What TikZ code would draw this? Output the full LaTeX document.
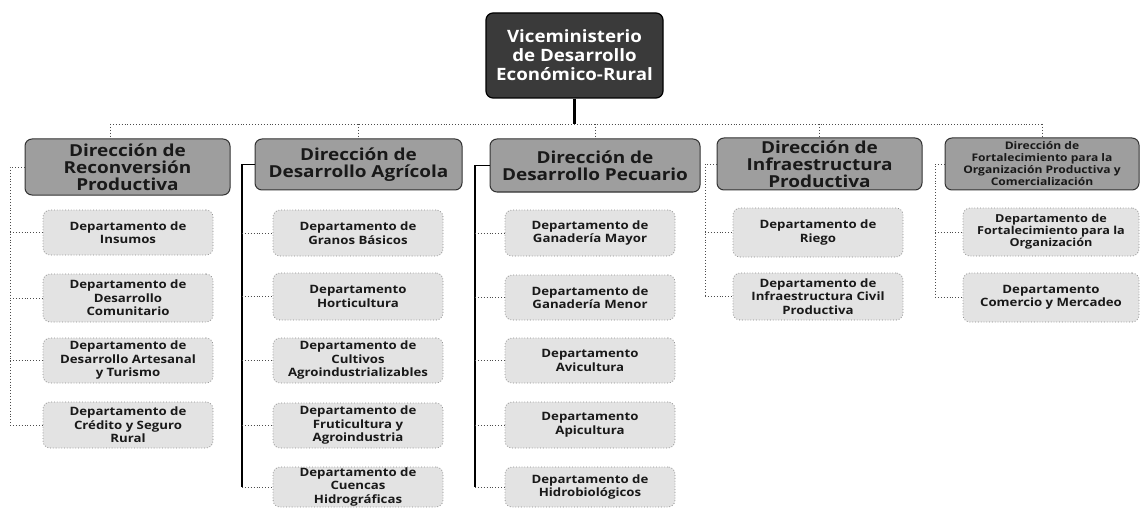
\documentclass[tikz,border=0pt]{standalone}
\usepackage{fontspec}
\setmainfont{Open Sans}
\newfontfamily\widefont[FakeStretch=1.15]{Open Sans}
\newfontfamily\topfont[FakeStretch=1.1]{Open Sans}
\definecolor{topgray}{HTML}{3A3A3A}
\definecolor{hdrgray}{HTML}{9E9E9E}
\definecolor{deptgray}{HTML}{E3E3E3}
\tikzset{
  topbox/.style={draw=black, line width=1.2pt, fill=topgray, rounded corners=7pt, text=white,
    font=\topfont\bfseries\fontsize{17}{19}\selectfont, align=center, inner sep=0pt},
  hdrbox/.style={draw=black!80, line width=1pt, fill=hdrgray, rounded corners=7pt, text=black!90,
    font=\widefont\bfseries\fontsize{16.5}{17}\selectfont, align=center, inner sep=0pt},
  hdrsmall/.style={hdrbox, font=\widefont\bfseries\fontsize{10.5}{12}\selectfont},
  deptbox/.style={draw=black!45, dotted, line width=0.8pt, fill=deptgray, rounded corners=7pt, text=black!90,
    font=\widefont\bfseries\fontsize{11.5}{13.5}\selectfont, align=center, inner sep=0pt,
    minimum width=170pt},
  deptsmall/.style={deptbox, font=\widefont\bfseries\fontsize{11}{12}\selectfont},
  thickline/.style={line width=3.5pt, draw=black},
  hline/.style={draw=black!70, dotted, line width=0.9pt},
  solidline/.style={draw=black, line width=1.2pt},
  dotline/.style={draw=black!70, dotted, line width=0.9pt},
}
\begin{document}
\begin{tikzpicture}[x=1pt,y=-1pt]
\useasboundingbox[fill=white] (0,0) rectangle (1141,508);

% top node
\node[topbox, minimum width=177pt, minimum height=85pt] (top) at (574.5,55.5)
  {Viceministerio\\de Desarrollo\\Económico-Rural};

% headers
\node[hdrbox, minimum width=205pt, minimum height=56pt] (h1) at (127.5,167)
  {Dirección de\\Reconversión\\Productiva};
\node[hdrbox, minimum width=207pt, minimum height=51pt] (h2) at (358.5,164.5)
  {Dirección de\\Desarrollo Agrícola};
\node[hdrbox, minimum width=210pt, minimum height=53pt] (h3) at (595,165.5)
  {Dirección de\\Desarrollo Pecuario};
\node[hdrbox, minimum width=205pt, minimum height=52pt] (h4) at (819.5,164)
  {Dirección de\\Infraestructura\\Productiva};
\node[hdrsmall, minimum width=194pt, minimum height=52pt] (h5) at (1042,164)
  {Dirección de\\Fortalecimiento para la\\Organización Productiva y\\Comercialización};

% column 1
\node[deptbox, minimum height=45pt] (d11) at (128,232.5) {Departamento de\\Insumos};
\node[deptbox, minimum height=48pt] (d12) at (128,298) {Departamento de\\Desarrollo\\Comunitario};
\node[deptbox, minimum height=45pt] (d13) at (128,360.5) {Departamento de\\Desarrollo Artesanal\\y Turismo};
\node[deptbox, minimum height=46pt] (d14) at (128,425) {Departamento de\\Crédito y Seguro\\Rural};

% column 2
\node[deptbox, minimum height=46pt] (d21) at (358,233) {Departamento de\\Granos Básicos};
\node[deptbox, minimum height=47pt] (d22) at (358,296.5) {Departamento\\Horticultura};
\node[deptbox, minimum height=45pt] (d23) at (358,360.5) {Departamento de\\Cultivos\\Agroindustrializables};
\node[deptbox, minimum height=45pt] (d24) at (358,425.5) {Departamento de\\Fruticultura y\\Agroindustria};
\node[deptbox, minimum height=40pt] (d25) at (358,487) {Departamento de\\Cuencas\\Hidrográficas};

% column 3
\node[deptbox, minimum height=46pt] (d31) at (590,233) {Departamento de\\Ganadería Mayor};
\node[deptbox, minimum height=45pt] (d32) at (590,297.5) {Departamento de\\Ganadería Menor};
\node[deptbox, minimum height=45pt] (d33) at (590,360.5) {Departamento\\Avicultura};
\node[deptbox, minimum height=46pt] (d34) at (590,425) {Departamento\\Apicultura};
\node[deptbox, minimum height=40pt] (d35) at (590,487) {Departamento de\\Hidrobiológicos};

% column 4
\node[deptbox, minimum height=49pt] (d41) at (818,232.5) {Departamento de\\Riego};
\node[deptbox, minimum height=47pt] (d42) at (818,296.5) {Departamento de\\Infraestructura Civil\\Productiva};

% column 5
\node[deptsmall, minimum width=176pt, minimum height=48pt] (d51) at (1051,232) {Departamento de\\Fortalecimiento para la\\Organización};
\node[deptbox, minimum width=176pt, minimum height=49pt] (d52) at (1051,297.5) {Departamento\\Comercio y Mercadeo};

% connectors: top level
\coordinate (jy) at (0,124);
\coordinate (c1) at (110,0);
\coordinate (t1) at (c1 |- jy);
\coordinate (b1) at (c1 |- h1.north);
\coordinate (t2) at (h2.north |- jy);
\coordinate (t3) at (h3.north |- jy);
\coordinate (t4) at (h4.north |- jy);
\coordinate (t5) at (h5.north |- jy);
\coordinate (tj) at (top.south |- jy);
\draw[hline] (t1) -- (t5);
\draw[thickline] (top.south) -- (tj);
\draw[hline] (t1) -- (b1);
\foreach \i in {2,...,5} { \draw[hline] (t\i) -- (h\i.north); }

% column spines
\coordinate (v1) at (10,0);
\coordinate (v2) at (242,0);
\coordinate (v3) at (475,0);
\coordinate (v4) at (705,0);
\coordinate (v5) at (935,0);

\draw[dotline] (h1.west) -| (v1 |- d14.west);
\foreach \k in {1,...,4} { \draw[dotline] (v1 |- d1\k.west) -- (d1\k.west); }

\draw[solidline] (h2.west) -| (v2 |- d25.west);
\foreach \k in {1,...,5} { \draw[dotline] (v2 |- d2\k.west) -- (d2\k.west); }

\draw[solidline] (h3.west) -| (v3 |- d35.west);
\foreach \k in {1,...,5} { \draw[dotline] (v3 |- d3\k.west) -- (d3\k.west); }

\draw[dotline] (h4.west) -| (v4 |- d42.west);
\foreach \k in {1,2} { \draw[dotline] (v4 |- d4\k.west) -- (d4\k.west); }

\draw[dotline] (h5.west) -| (v5 |- d52.west);
\foreach \k in {1,2} { \draw[dotline] (v5 |- d5\k.west) -- (d5\k.west); }
\end{tikzpicture}
\end{document}
